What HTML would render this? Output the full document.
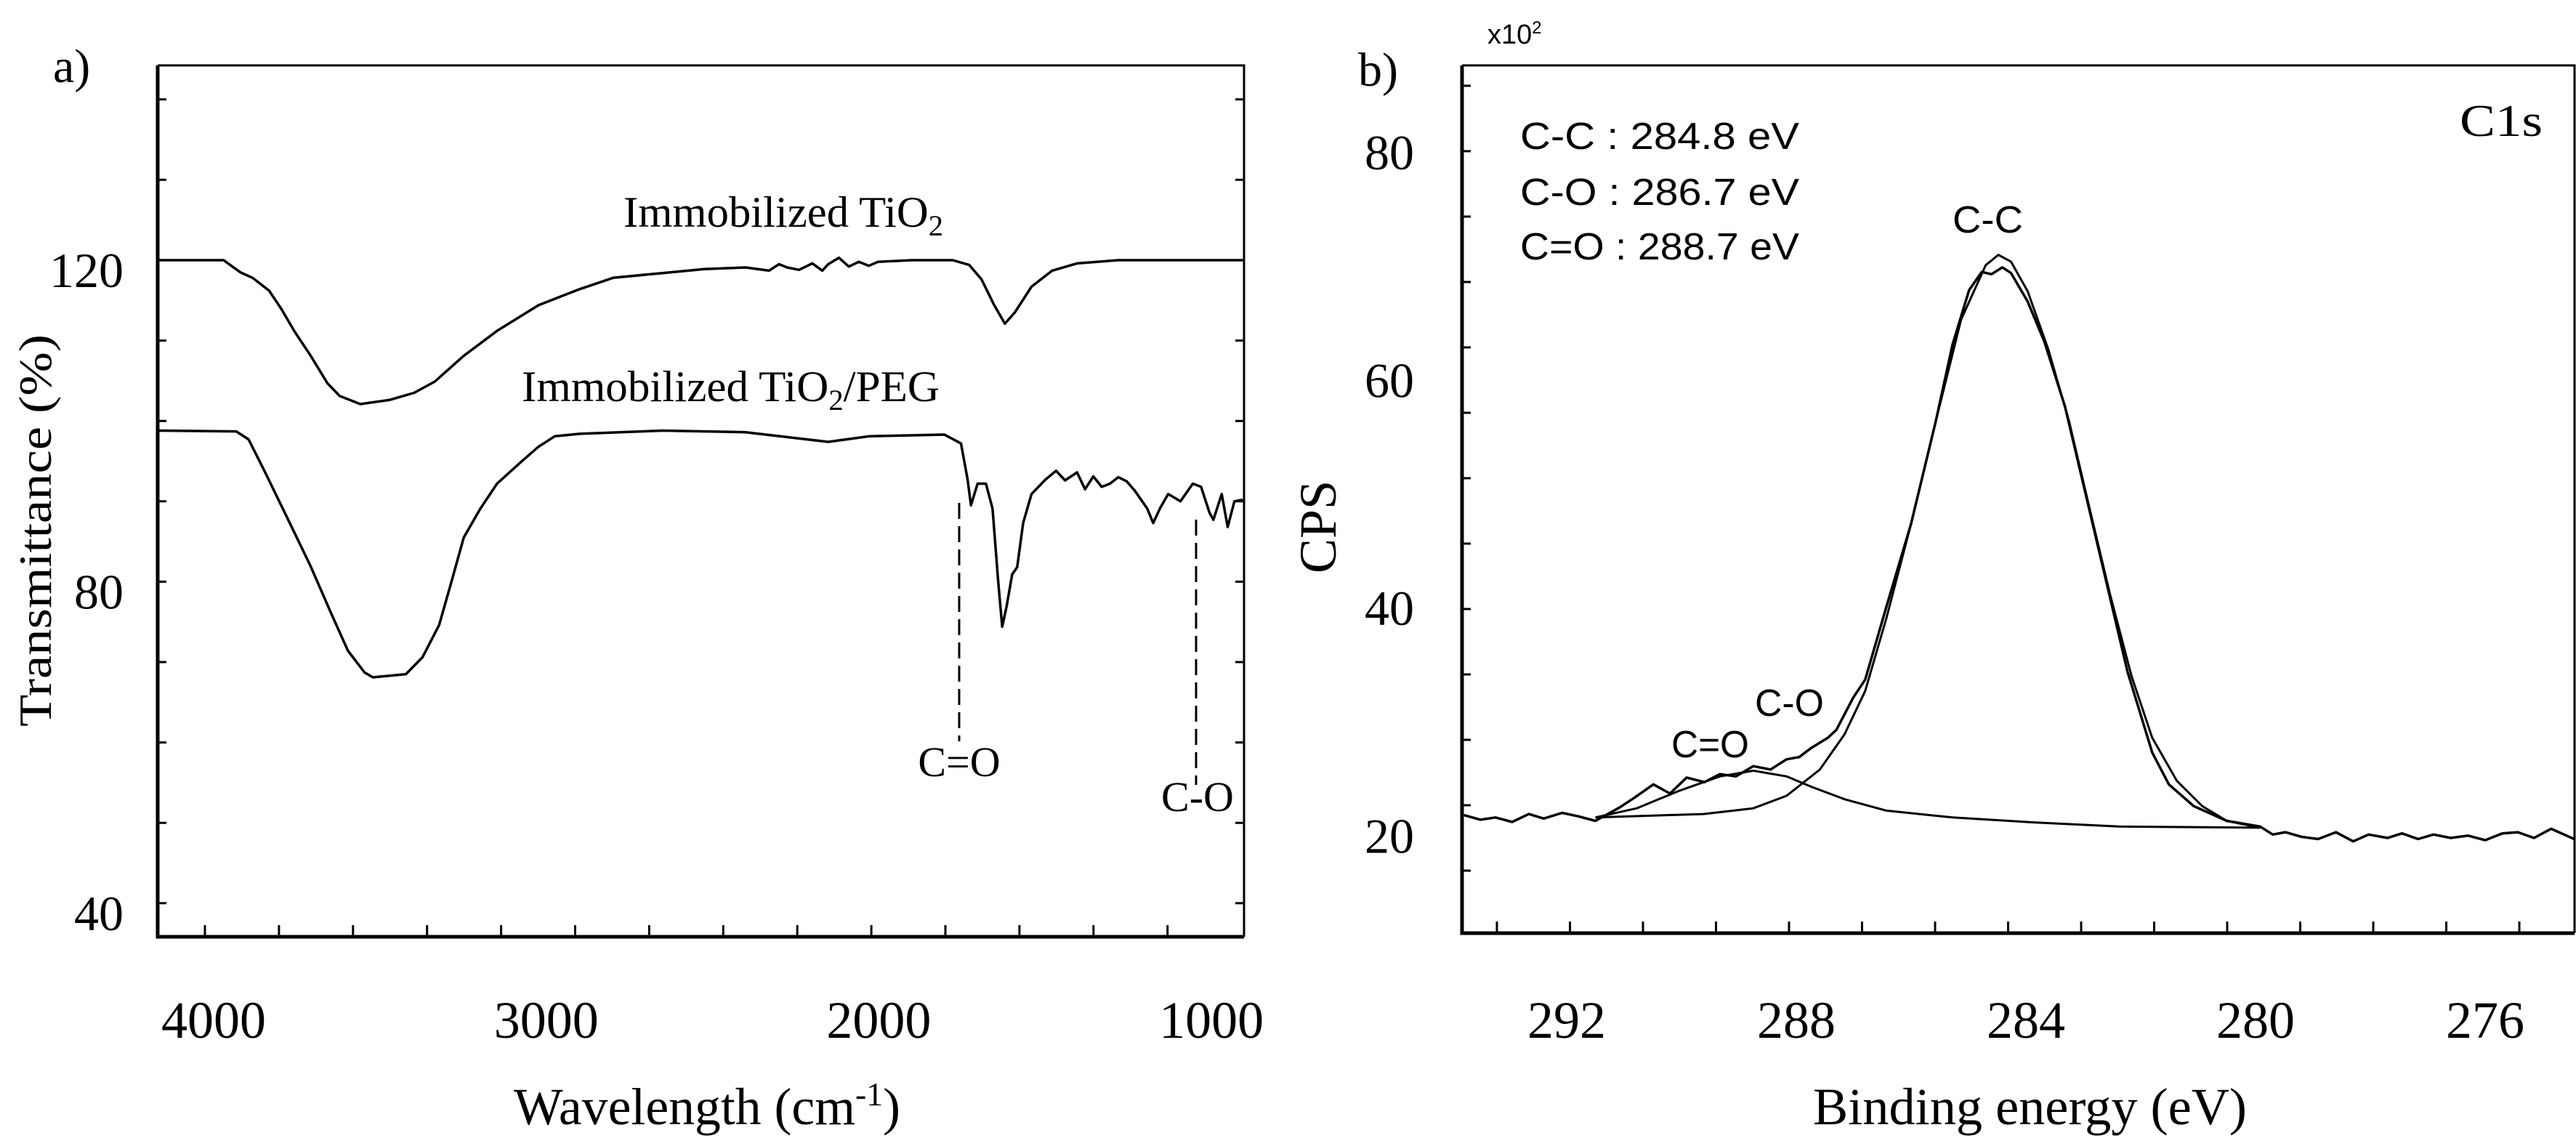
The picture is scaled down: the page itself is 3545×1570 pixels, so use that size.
<!DOCTYPE html>
<html><head><meta charset="utf-8"><style>
html,body{margin:0;padding:0;background:#fff}
svg{display:block}
text{font-family:"Liberation Serif",serif;fill:#000}
.sans{font-family:"Liberation Sans",sans-serif}
</style></head><body>
<svg id="fig" width="3545" height="1570" viewBox="0 0 3545 1570" xmlns="http://www.w3.org/2000/svg">
<rect width="3545" height="1570" fill="#fff"/>
<g id="pa"></g>
<g id="pb"></g>
</svg>
<script>
// ---------- Panel A data (FTIR) ----------
const ftirTiO2W = [4164,3970,3920,3883,3833,3796,3758,3708,3658,3621,3559,3472,3397,3335,3248,3148,3023,2899,2799,2650,2525,2401,2330,2300,2276,2240,2200,2170,2152,2120,2090,2060,2030,2002,1900,1778,1728,1691,1653,1621,1591,1541,1479,1404,1280,906];
const ftirTiO2T = [120,120,118.5,117.8,116.2,113.9,111.2,108.1,104.7,103.1,102.1,102.6,103.5,104.9,108.1,111.2,114.4,116.4,117.8,118.4,118.9,119.1,118.7,119.5,119.1,118.8,119.6,118.7,119.5,120.3,119.2,119.8,119.3,119.8,120,120,119.4,117.6,114.4,112.1,113.5,116.7,118.7,119.6,120,120];
const ftirPegW = [4164,3932,3895,3845,3771,3708,3646,3596,3546,3521,3422,3372,3322,3285,3248,3198,3148,3073,3023,2974,2899,2650,2401,2152,2027,1803,1753,1733,1723,1703,1678,1658,1641,1629,1616,1599,1584,1566,1541,1499,1467,1440,1404,1380,1355,1330,1305,1280,1255,1230,1193,1175,1155,1130,1093,1056,1031,1006,994,969,951,931,906];
const ftirPegT = [98.8,98.7,97.7,93.6,87.3,81.9,76.0,71.4,68.7,68.1,68.5,70.6,74.6,80.0,85.5,89.1,92.2,95.0,96.8,98.1,98.4,98.8,98.6,97.4,98.1,98.3,97.2,92.7,89.5,92.2,92.2,89.1,80.0,74.4,76.9,80.9,81.8,87.3,90.9,92.7,93.8,92.6,93.6,91.5,93.1,91.8,92.2,93.0,92.5,91.3,89.1,87.3,89.1,90.9,90.0,92.2,91.8,88.6,87.7,90.9,86.8,90.0,90.2];
const aXTickLabels = [4000,3000,2000,1000];
const aYTickLabels = [120,80,40];
const aYMinor = [140,130,120,110,100,90,80,70,60,50,40];

// ---------- Panel B data (XPS C1s) ----------
const xpsE = [293.79,293.5,293.24,292.95,292.66,292.4,292.08,291.8,291.5,291.07,290.8,290.49,290.2,289.91,289.6,289.33,289.05,288.75,288.45,288.17,287.95,287.74,287.45,287.30,287.01,286.80,286.43,286.00,285.57,285.28,284.99,284.77,284.60,284.41,284.26,283.97,283.68,283.32,282.96,282.60,282.23,281.80,281.51,281.08,280.50,279.92,279.7,279.48,279.2,278.91,278.6,278.3,278.03,277.7,277.45,277.17,276.9,276.6,276.30,276.0,275.7,275.43,275.15,274.85,274.45];
const xpsCps = [21.9,21.5,21.7,21.3,22.0,21.6,22.1,21.8,21.4,22.6,23.5,24.6,23.8,25.2,24.8,25.5,25.3,26.2,25.9,26.8,27.0,27.8,28.7,29.4,32.2,33.8,40.2,47.5,56.5,63.2,68.0,69.6,69.4,70.0,69.5,67.0,63.5,57.8,50.1,42.4,34.5,27.4,24.6,22.7,21.4,20.9,20.2,20.4,20.0,19.8,20.4,19.6,20.2,19.9,20.3,19.8,20.2,19.9,20.1,19.7,20.3,20.4,19.9,20.7,19.8];
const ccFitE = [291.5,289.62,288.75,288.17,287.59,287.16,286.80,286.43,286.0,285.57,285.13,284.70,284.48,284.26,283.97,283.61,283.25,282.89,282.53,282.16,281.80,281.37,280.93,280.50,279.92];
const ccFitCps = [21.7,22.0,22.5,23.6,25.9,29.0,32.8,39.2,47.5,56.5,65.4,70.2,71.1,70.5,67.9,62.8,56.5,48.8,41.2,34.1,28.7,24.9,22.7,21.4,20.8];
const coFitE = [291.5,290.78,290.06,289.33,288.75,288.17,287.74,287.16,286.43,285.28,283.83,282.38,279.92];
const coFitCps = [21.7,22.5,24.0,25.3,25.8,25.3,24.4,23.3,22.3,21.7,21.25,20.9,20.8];
const bXTickLabels = [292,288,284,280,276];
const bYTickLabels = [80,60,40,20];

const NS = "http://www.w3.org/2000/svg";
function mk(parent, tag, attrs, txt){
  const e = document.createElementNS(NS, tag);
  for (const k in attrs) e.setAttribute(k, attrs[k]);
  if (txt !== undefined) e.textContent = txt;
  parent.appendChild(e);
  return e;
}
const xA = w => 294 + (4000 - w) * 0.4577;
const yA = t => 358 + (120 - t) * 11.06;
const xB = e => 2788 - (e - 284) * 79;
const yB = c => 838 - (c - 40) * 15.67;

function pathFrom(xs, ys, fx, fy){
  return xs.map((v,i)=> (i?'L':'M') + fx(v).toFixed(1) + ' ' + fy(ys[i]).toFixed(1)).join(' ');
}

const pa = document.getElementById('pa');
const A = {l:217, r:1712, t:90, b:1289};
let el;
el = mk(pa,'path',{d:`M${A.l} ${A.t} L${A.r} ${A.t} L${A.r} ${A.b}`,fill:'none',stroke:'#000','stroke-width':3});


el = mk(pa,'path',{d:`M${A.l} ${A.t} L${A.l} ${A.b} L${A.r} ${A.b}`,fill:'none',stroke:'#000','stroke-width':5});


aYMinor.forEach(v=>{
  const y = yA(v);
  if (y < A.t+5 || y > A.b-5) return;
  el = mk(pa,'path',{d:`M${A.l} ${y} h12 M${A.r} ${y} h-12`,stroke:'#000','stroke-width':3});
  
  
});
for (let px = 282; px < A.r - 20; px += 101.9){
  el = mk(pa,'path',{d:`M${px} ${A.b} v-16`,stroke:'#000','stroke-width':3});
  
  
}
aYTickLabels.forEach(v=>{
  el = mk(pa,'text',{x:170,y:yA(v)+37,'font-size':68,'text-anchor':'end'}, String(v));
  
  
});
aXTickLabels.forEach(v=>{
  el = mk(pa,'text',{x:xA(v),y:1428,'font-size':72,'text-anchor':'middle'}, String(v));
  
  
});
el = mk(pa,'path',{d:pathFrom(ftirTiO2W,ftirTiO2T,xA,yA),fill:'none',stroke:'#000','stroke-width':3.5,'stroke-linejoin':'round'});


el = mk(pa,'path',{d:pathFrom(ftirPegW,ftirPegT,xA,yA),fill:'none',stroke:'#000','stroke-width':3.5,'stroke-linejoin':'round'});


el = mk(pa,'path',{d:'M1320 692 V1020',stroke:'#000','stroke-width':3,'stroke-dasharray':'22 10'});


el = mk(pa,'path',{d:'M1646 715 V1080',stroke:'#000','stroke-width':3,'stroke-dasharray':'22 10'});


</script>
<script>
(function(){
const pa = document.getElementById('pa');
pa.insertAdjacentHTML('beforeend', `
<text x="73" y="113" font-size="66">a)</text>
<text x="858" y="312" font-size="60" textLength="440" lengthAdjust="spacingAndGlyphs">Immobilized TiO<tspan font-size="40" dy="12">2</tspan></text>
<text x="718" y="552" font-size="60" textLength="575" lengthAdjust="spacingAndGlyphs">Immobilized TiO<tspan font-size="40" dy="12">2</tspan><tspan dy="-12">/PEG</tspan></text>
<text x="1320" y="1068" font-size="58" text-anchor="middle">C=O</text>
<text x="1648" y="1116" font-size="58" text-anchor="middle">C-O</text>
<text x="707" y="1547" font-size="72" textLength="532" lengthAdjust="spacingAndGlyphs">Wavelength (cm<tspan font-size="46" dy="-26">-1</tspan><tspan dy="26">)</tspan></text>
<text transform="translate(70 730) rotate(-90)" font-size="64" text-anchor="middle" textLength="540" lengthAdjust="spacingAndGlyphs">Transmittance (%)</text>
`);
})();
</script>
<script>
(function(){
const pb = document.getElementById('pb');
const B = {l:2012, r:3543, t:90, b:1284};
let el;
el = mk(pb,'path',{d:`M${B.l} ${B.t} L${B.r} ${B.t} L${B.r} ${B.b}`,fill:'none',stroke:'#000','stroke-width':3});


el = mk(pb,'path',{d:`M${B.l} ${B.t} L${B.l} ${B.b} L${B.r} ${B.b}`,fill:'none',stroke:'#000','stroke-width':5});


for (let y = 118; y < B.b - 20; y += 90){
  el = mk(pb,'path',{d:`M${B.l} ${y} h12`,stroke:'#000','stroke-width':3});
  
  
}
for (let px = 2060; px < B.r - 20; px += 100.5){
  el = mk(pb,'path',{d:`M${px} ${B.b} v-16`,stroke:'#000','stroke-width':3});
  
  
}
bYTickLabels.forEach(v=>{
  el = mk(pb,'text',{x:1946,y:yB(v)+22,'font-size':68,'text-anchor':'end'}, String(v));
  
  
});
bXTickLabels.forEach(v=>{
  el = mk(pb,'text',{x:xB(v),y:1428,'font-size':72,'text-anchor':'middle'}, String(v));
  
  
});
el = mk(pb,'path',{d:pathFrom(coFitE,coFitCps,xB,yB),fill:'none',stroke:'#000','stroke-width':3,'stroke-linejoin':'round'});


el = mk(pb,'path',{d:pathFrom(ccFitE,ccFitCps,xB,yB),fill:'none',stroke:'#000','stroke-width':3,'stroke-linejoin':'round'});


el = mk(pb,'path',{d:pathFrom(xpsE,xpsCps,xB,yB),fill:'none',stroke:'#000','stroke-width':3.5,'stroke-linejoin':'round'});


pb.insertAdjacentHTML('beforeend', `
<text class="sans" x="2047" y="60" font-size="38">x10<tspan font-size="24" dy="-14">2</tspan></text>
<text x="1869" y="118" font-size="66">b)</text>
<text x="3385" y="187" font-size="62" textLength="114" lengthAdjust="spacingAndGlyphs">C1s</text>
<text class="sans" x="2092" y="205" font-size="52" textLength="384" lengthAdjust="spacingAndGlyphs">C-C  : 284.8 eV</text>
<text class="sans" x="2092" y="282" font-size="52" textLength="384" lengthAdjust="spacingAndGlyphs">C-O  : 286.7 eV</text>
<text class="sans" x="2092" y="357" font-size="52" textLength="384" lengthAdjust="spacingAndGlyphs">C=O : 288.7 eV</text>
<text class="sans" x="2687" y="320" font-size="52" textLength="97" lengthAdjust="spacingAndGlyphs">C-C</text>
<text class="sans" x="2415" y="985" font-size="52" textLength="95" lengthAdjust="spacingAndGlyphs">C-O</text>
<text class="sans" x="2300" y="1042" font-size="52" textLength="107" lengthAdjust="spacingAndGlyphs">C=O</text>
<text x="2495" y="1547" font-size="72" textLength="597" lengthAdjust="spacingAndGlyphs">Binding energy (eV)</text>
<text transform="translate(1838 725) rotate(-90)" font-size="72" text-anchor="middle">CPS</text>
`);
})();
</script>
</body></html>
